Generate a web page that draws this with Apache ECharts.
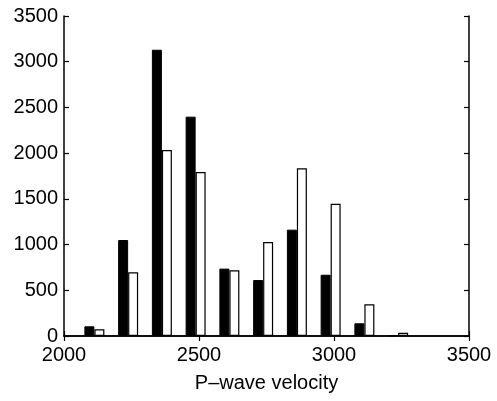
<!DOCTYPE html>
<html><head><meta charset="utf-8">
<script src="https://cdn.jsdelivr.net/npm/echarts@6/dist/echarts.min.js"></script>
<style>html,body{margin:0;padding:0;background:#fff}#c{width:497px;height:401px}</style>
</head><body><div id="c"></div>
<script>
const binCenters = [2112.5, 2237.5, 2362.5, 2487.5, 2612.5, 2737.5, 2862.5, 2987.5, 3112.5, 3237.5];
const blackValues = [106, 1050, 3131, 2399, 737, 612, 1163, 670, 139, 5];
const whiteValues = [73, 697, 2034, 1794, 718, 1028, 1834, 1447, 346, 36];
const xTicks = [2000, 2500, 3000, 3500];
const yTicks = [0, 500, 1000, 1500, 2000, 2500, 3000, 3500];
const xLabel = 'P–wave velocity';

const font = 'Liberation Sans';
const chart = echarts.init(document.getElementById('c'), null, {renderer: 'canvas'});
const axisLine = {show: true, lineStyle: {color: '#000', width: 1.5}};
const tick = {show: true, inside: true, length: 5, lineStyle: {color: '#000', width: 1.2}};
const fmt = v => String(v);
chart.setOption({
  animation: false,
  grid: {left: 64, right: 28, top: 16, bottom: 65},
  xAxis: [{
    type: 'value', min: xTicks[0], max: xTicks[xTicks.length-1], interval: 500,
    axisLine, axisTick: tick, splitLine: {show: false},
    axisLabel: {color: '#000', fontFamily: font, fontSize: 20, margin: 9, formatter: fmt},
    name: xLabel, nameLocation: 'middle', nameGap: 37,
    nameTextStyle: {color: '#000', fontFamily: font, fontSize: 20}
  }, {
    type: 'value', position: 'top', min: xTicks[0], max: xTicks[xTicks.length-1], interval: 500,
    axisLine, axisTick: tick, axisLabel: {show: false}, splitLine: {show: false}
  }],
  yAxis: [{
    type: 'value', min: yTicks[0], max: yTicks[yTicks.length-1], interval: 500,
    axisLine, axisTick: tick, splitLine: {show: false},
    axisLabel: {color: '#000', fontFamily: font, fontSize: 20, margin: 6, formatter: fmt}
  }, {
    type: 'value', position: 'right', min: yTicks[0], max: yTicks[yTicks.length-1], interval: 500,
    axisLine, axisTick: tick, axisLabel: {show: false}, splitLine: {show: false}
  }],
  series: [{
    type: 'bar', xAxisIndex: 0, yAxisIndex: 0, barWidth: 10, barGap: '0%',
    data: binCenters.map((x, i) => [x, blackValues[i]]),
    itemStyle: {color: '#000', borderColor: '#000', borderWidth: 1}
  }, {
    type: 'bar', xAxisIndex: 0, yAxisIndex: 0, barWidth: 10, barGap: '0%',
    data: binCenters.map((x, i) => [x, whiteValues[i]]),
    itemStyle: {color: '#fff', borderColor: '#000', borderWidth: 1.2}
  }]
});
</script></body></html>
